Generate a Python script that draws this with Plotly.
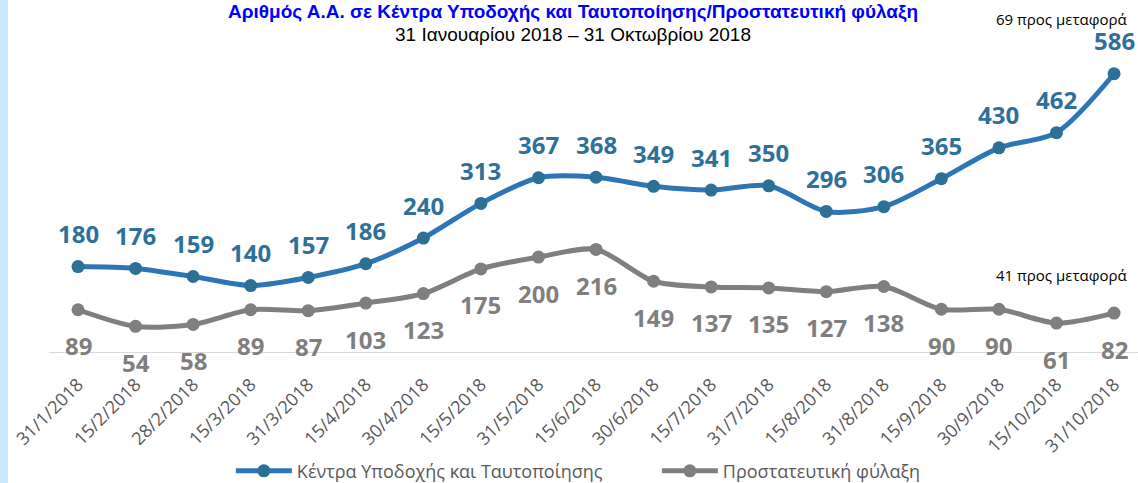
import plotly.graph_objects as go

dates = ["31/1/2018", "15/2/2018", "28/2/2018", "15/3/2018", "31/3/2018", "15/4/2018",
         "30/4/2018", "15/5/2018", "31/5/2018", "15/6/2018", "30/6/2018", "15/7/2018",
         "31/7/2018", "15/8/2018", "31/8/2018", "15/9/2018", "30/9/2018", "15/10/2018",
         "31/10/2018"]
kyt = [180, 176, 159, 140, 157, 186, 240, 313, 367, 368, 349, 341, 350, 296, 306, 365, 430, 462, 586]
prost = [89, 54, 58, 89, 87, 103, 123, 175, 200, 216, 149, 137, 135, 127, 138, 90, 90, 61, 82]

name_kyt = "Κέντρα Υποδοχής και Ταυτοποίησης"
name_prost = "Προστατευτική φύλαξη"
title_txt = "Αριθμός Α.Α. σε Κέντρα Υποδοχής και Ταυτοποίησης/Προστατευτική φύλαξη"
subtitle_txt = "31 Ιανουαρίου 2018 – 31 Οκτωβρίου 2018"
note_kyt = "69 προς μεταφορά"
note_prost = "41 προς μεταφορά"

BLUE_LINE = "#2e75b6"
BLUE_MARK = "#2c6f97"
BLUE_TXT = "#2e7099"
GRAY = "#7f7f7f"
FONT = "Open Sans"

fig = go.Figure()
fig.add_trace(go.Scatter(
    x=dates, y=kyt, name=name_kyt, mode="lines+markers",
    line=dict(color=BLUE_LINE, width=5, shape="spline", smoothing=0.8),
    marker=dict(color=BLUE_MARK, size=13),
))
fig.add_trace(go.Scatter(
    x=dates, y=prost, name=name_prost, mode="lines+markers",
    line=dict(color=GRAY, width=5, shape="spline", smoothing=0.8),
    marker=dict(color=GRAY, size=13),
))

annotations = []
for d, v in zip(dates, kyt):
    annotations.append(dict(x=d, y=v, text=str(v), showarrow=False, yshift=33,
                            xanchor="center", yanchor="middle", borderpad=0,
                            font=dict(family=FONT, size=24, color=BLUE_TXT, weight="bold")))
for d, v in zip(dates, prost):
    annotations.append(dict(x=d, y=v, text=str(v), showarrow=False, yshift=-36,
                            xanchor="center", yanchor="middle", borderpad=0,
                            font=dict(family=FONT, size=24, color=GRAY, weight="bold")))

def paper_note(x, y, text, font):
    return dict(xref="paper", yref="paper", x=x, y=y, text=text, showarrow=False,
                xanchor="center", yanchor="middle", borderpad=0, font=font)

annotations += [
    paper_note(0.481, 1.164, "<b>" + title_txt + "</b>",
               dict(family="Liberation Sans", size=19, color="#0000ff")),
    paper_note(0.481, 1.089, subtitle_txt,
               dict(family="Liberation Sans", size=19, color="#000000")),
    paper_note(0.930, 1.141, note_kyt, dict(family=FONT, size=15, color="#000000")),
    paper_note(0.930, 0.264, note_prost, dict(family=FONT, size=15, color="#000000")),
]

fig.update_layout(
    width=1138, height=483,
    margin=dict(l=49, r=0, t=60, b=131, autoexpand=False),
    paper_bgcolor="white", plot_bgcolor="white",
    showlegend=True,
    legend=dict(orientation="h", xanchor="left", x=0.167, yanchor="middle", y=-0.408,
                font=dict(family=FONT, size=18, color="#595959"), itemwidth=56,
                entrywidth=355, entrywidthmode="pixels"),
    annotations=annotations,
    shapes=[dict(type="rect", xref="paper", yref="paper", x0=-0.046, x1=-0.0376,
                 y0=-0.46, y1=1.22, fillcolor="#cce8ff", line=dict(width=0), layer="below")],
    hovermode=False,
)
fig.update_xaxes(type="category", range=[-0.504, 18.416], showline=True, linecolor="#d9d9d9",
                 linewidth=1, showgrid=False, ticks="", tickangle=-45, ticklabelstandoff=14,
                 tickfont=dict(family=FONT, size=18, color="#595959"))
fig.update_yaxes(range=[0, 615], showgrid=False, zeroline=False, showticklabels=False,
                 showline=False)

fig.write_html("out.html", config={"displayModeBar": False},
               post_script="document.body.style.margin='0';")
